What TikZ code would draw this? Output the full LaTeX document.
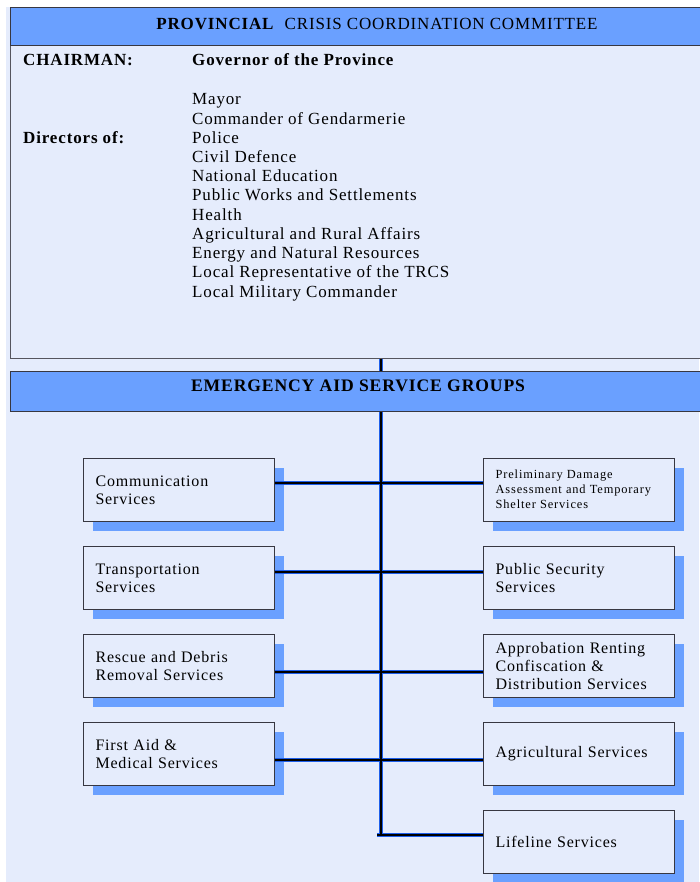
\documentclass[tikz,border=0pt]{standalone}
\usepackage{fontspec}
\setmainfont[LetterSpace=5]{Liberation Serif}
\newfontfamily\smallserif[LetterSpace=7]{Liberation Serif}
\usetikzlibrary{shadows}
\definecolor{bglight}{RGB}{229,236,252}
\definecolor{barblue}{RGB}{106,160,255}
\definecolor{linkblue}{RGB}{30,95,235}
\definecolor{edgegray}{RGB}{55,55,65}
\newcommand{\lstfont}{\fontsize{17}{19}\selectfont}
\newcommand{\boxfont}{\fontsize{16}{18}\selectfont}
\newcommand{\smallboxfont}{\smallserif\fontsize{12.4}{15}\selectfont}
\tikzset{
  svcbox/.style={rectangle, draw=edgegray, line width=1.1pt, fill=bglight,
    minimum width=191pt, minimum height=63pt, text width=167pt,
    inner xsep=12pt, inner ysep=0pt, align=left, anchor=north west,
    font=\boxfont,
    drop shadow={shadow xshift=9pt, shadow yshift=-9pt, fill=barblue, opacity=1, draw=none}},
  bar/.style={rectangle, draw=edgegray, line width=1pt, fill=barblue, anchor=north west,
    minimum width=692pt, inner sep=0pt},
  listtext/.style={anchor=base west, inner sep=0pt, font=\lstfont},
  connbg/.style={draw=linkblue, line width=4pt},
  connfg/.style={draw=black, line width=2pt}
}
\newcommand{\connpaths}[1]{%
  \draw[#1] (committee.south -| sp) -- (bar2.north -| sp);
  \draw[#1] (bar2.south -| sp) -- (sp.center);
  \draw[#1] ([xshift=-4pt]sp.center) -- (l5.west |- sp);
  \draw[#1] (l1.east |- r1) -- (p1.west |- r1);
  \draw[#1] (l2.east |- r2) -- (p2.west |- r2);
  \draw[#1] (l3.east |- r3) -- (p3.west |- r3);
  \draw[#1] (l4.east |- r4) -- (p4.west |- r4);
}
\begin{document}
\begin{tikzpicture}[x=1pt,y=-1pt]
\useasboundingbox (0,0) rectangle (699,882);
\fill[bglight] (6,7) rectangle (699,882);

% top committee box
\node[rectangle, draw=edgegray!85, line width=1pt, fill=bglight, anchor=north west,
  minimum width=692pt, minimum height=351pt, inner sep=0pt] (committee) at (10,7) {};
\node[bar, minimum height=38pt] (tbar) at (10,7) {};
\node[anchor=base, inner sep=0pt, font=\fontsize{17}{19}\selectfont] (ttl) at (377,29.5)
  {\textbf{PROVINCIAL}\ \ CRISIS COORDINATION COMMITTEE};

\node[listtext, font=\lstfont\bfseries] (chair) at (23,66) {CHAIRMAN:};
\node[listtext, font=\lstfont\bfseries] (gov) at (192,66) {Governor of the Province};
\node[listtext, font=\lstfont\bfseries] (dirs) at (23,143.4) {Directors of:};
\foreach \t [count=\i from 0] in {Mayor, Commander of Gendarmerie, Police, Civil Defence,
  National Education, Public Works and Settlements, Health, Agricultural and Rural Affairs,
  Energy and Natural Resources, Local Representative of the TRCS, Local Military Commander}
  \node[listtext] (d\i) at (192,105+19.2*\i) {\t};

% second bar
\node[bar, minimum height=40pt] (bar2) at (10,371) {};
\node[anchor=base, inner sep=0pt, font=\fontsize{17.6}{19}\selectfont\bfseries] (eag) at (358,391.5)
  {EMERGENCY AID SERVICE GROUPS};

% service boxes
\node[svcbox] (l1) at (83,458) {Communication\\Services};
\node[svcbox] (l2) at (83,546) {Transportation\\Services};
\node[svcbox] (l3) at (83,634) {Rescue and Debris\\Removal Services};
\node[svcbox] (l4) at (83,722) {First Aid \&\\Medical Services};

\node[svcbox, font=\smallboxfont] (p1) at (483,458)
  {\raisebox{4pt}{\begin{tabular}{@{}l@{}}Preliminary Damage\\Assessment and Temporary\\Shelter Services\end{tabular}}};
\node[svcbox] (p2) at (483,546) {Public Security\\Services};
\node[svcbox] (p3) at (483,634) {Approbation Renting\\Confiscation \&\\Distribution Services};
\node[svcbox] (p4) at (483,722) {Agricultural Services};
\node[svcbox] (l5) at (483,810) {Lifeline Services};

% connector coordinates
\coordinate (sp) at (381,835);
\coordinate (r1) at (381,483);
\coordinate (r2) at (381,572);
\coordinate (r3) at (381,672);
\coordinate (r4) at (381,760);

\connpaths{connbg}
\connpaths{connfg}
\end{tikzpicture}
\end{document}
